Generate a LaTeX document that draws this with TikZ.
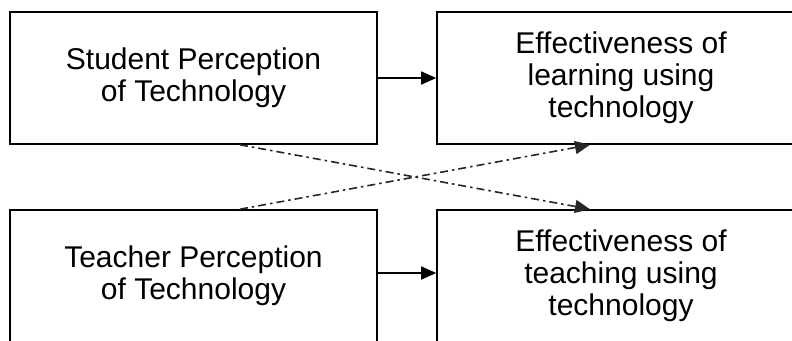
\documentclass[tikz,border=0pt]{standalone}
\usepackage{fontspec}
\setmainfont{Liberation Sans}
\usetikzlibrary{arrows.meta}
\begin{document}
\begin{tikzpicture}[x=1pt,y=-1pt,
  box/.style={draw=black,line width=1.6pt,minimum width=367pt,minimum height=132pt,inner sep=0pt,align=center,font=\fontsize{30}{32}\selectfont},
  flow/.style={line width=1.6pt,-{Triangle[length=15pt,width=13pt]}},
  cross/.style={line width=1.6pt,black!85,dash pattern=on 8pt off 4pt on 2.5pt off 4pt,-{Triangle[length=15pt,width=13pt]}}]
\useasboundingbox (0,0) rectangle (792,340);
\clip (0,0) rectangle (792,340);
\node[box] (tl) at (193.5,78) {Student Perception\\of Technology};
\node[box,minimum width=368pt] (tr) at (621,78) {Effectiveness of\\learning using\\technology};
\node[box] (bl) at (193.5,276) {Teacher Perception\\of Technology};
\node[box,minimum width=368pt] (br) at (621,276) {Effectiveness of\\teaching using\\technology};
\draw[flow] (tl.east) -- (tr.west);
\draw[flow] ([yshift=3pt]bl.east) -- ([yshift=3pt]br.west);
\draw[cross] ([xshift=46.5pt]tl.south) -- ([xshift=-31pt]br.north);
\draw[cross] ([xshift=46.5pt]bl.north) -- ([xshift=-31pt]tr.south);
\end{tikzpicture}
\end{document}
